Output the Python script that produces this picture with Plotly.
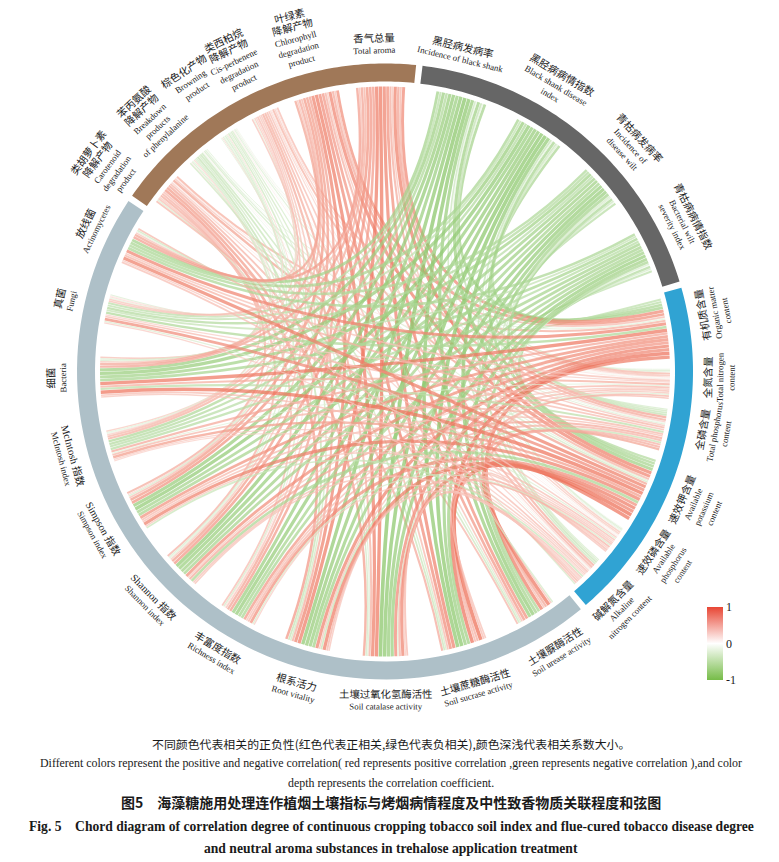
import numpy as np
import plotly.graph_objects as go

# ---- variables (clockwise order round the circle) ----
AROMA_ZH = ["类胡萝卜素<br>降解产物", "苯丙氨酸<br>降解产物", "棕色化产物", "类西柏烷<br>降解产物", "叶绿素<br>降解产物", "香气总量"]
AROMA_EN = ["Carotenoid<br>degradation<br>product", "Breakdown<br>products<br>of phenylalanine", "Browning<br>product",
            "Cis-perbenene<br>degradation<br>product", "Chlorophyll<br>degradation<br>product", "Total aroma"]
DISEASE_ZH = ["黑胫病发病率", "黑胫病病情指数", "青枯病发病率", "青枯病病情指数"]
DISEASE_EN = ["Incidence of black shank", "Black shank disease<br>index", "Incidence of<br>disease wilt", "Bacterial wilt<br>severity index"]
NUTRIENT_ZH = ["有机质含量", "全氮含量", "全磷含量", "速效钾含量", "速效磷含量", "碱解氮含量"]
NUTRIENT_EN = ["Organic matter<br>content", "Total nitrogen<br>content", "Total phosphorus<br>content",
               "Available<br>potassium<br>content", "Available<br>phosphorus<br>content", "Alkaline<br>nitrogen content"]
BIO_ZH = ["土壤脲酶活性", "土壤蔗糖酶活性", "土壤过氧化氢酶活性", "根系活力", "丰富度指数", "Shannon 指数",
          "Simpson 指数", "McIntosh 指数", "细菌", "真菌", "放线菌"]
BIO_EN = ["Soil urease activity", "Soil sucrase activity", "Soil catalase activity", "Root vitality", "Richness index",
          "Shannon index", "Simpson index", "McIntosh index", "Bacteria", "Fungi", "Actinomycetes"]

# ---- correlation coefficients (estimated from the figure) ----
# rows: soil indices = nutrients (6) + biology (11); cols: disease (4)
SOIL_DISEASE = [
    [-0.62, -0.58, -0.49, -0.45],
    [-0.21, -0.26, -0.18, -0.12],
    [-0.42, -0.38, -0.35, -0.30],
    [-0.66, -0.61, -0.57, -0.52],
    [-0.18, -0.22, -0.27, -0.15],
    [-0.36, -0.40, -0.31, -0.28],
    [-0.71, -0.74, -0.62, -0.58],
    [-0.78, -0.80, -0.69, -0.66],
    [-0.82, -0.79, -0.72, -0.70],
    [-0.76, -0.73, -0.70, -0.64],
    [-0.69, -0.72, -0.61, -0.59],
    [-0.74, -0.70, -0.66, -0.62],
    [-0.71, -0.75, -0.63, -0.61],
    [-0.55, -0.52, -0.48, -0.50],
    [-0.68, -0.71, -0.64, -0.60],
    [-0.47, -0.44, -0.52, -0.41],
    [-0.63, -0.59, -0.55, -0.57],
]
# rows: soil indices; cols: aroma (6)
SOIL_AROMA = [
    [0.45, -0.22, -0.15, 0.38, 0.62, 0.66],
    [0.18, -0.12, 0.10, 0.22, 0.35, 0.41],
    [0.32, -0.25, -0.18, 0.29, 0.48, 0.52],
    [0.51, -0.30, -0.24, 0.43, 0.68, 0.71],
    [0.15, 0.12, -0.09, 0.20, 0.31, 0.33],
    [0.28, -0.16, 0.14, 0.25, 0.44, 0.47],
    [0.42, -0.35, -0.28, 0.37, 0.58, 0.62],
    [0.48, -0.38, -0.31, 0.40, 0.64, 0.70],
    [0.55, -0.32, -0.25, 0.45, 0.72, 0.75],
    [0.58, -0.41, -0.33, 0.47, 0.69, 0.73],
    [0.39, -0.30, 0.21, 0.35, 0.52, 0.56],
    [0.44, -0.27, -0.24, 0.33, 0.55, 0.59],
    [0.47, 0.25, -0.29, 0.38, 0.57, 0.61],
    [0.31, -0.22, -0.19, 0.29, 0.41, 0.45],
    [0.36, -0.28, -0.26, 0.31, 0.49, 0.52],
    [-0.25, 0.18, 0.22, -0.20, 0.33, 0.36],
    [0.41, -0.33, -0.21, 0.34, 0.51, 0.54],
]
# rows: nutrients (6); cols: biology (11)
NUTRIENT_BIO = [
    [0.72, 0.78, 0.66, 0.70, 0.58, 0.63, 0.61, 0.49, 0.74, -0.55, 0.68],
    [0.38, 0.42, -0.25, 0.33, 0.36, 0.31, 0.40, -0.22, 0.45, 0.28, 0.35],
    [0.51, 0.47, 0.44, -0.39, 0.42, 0.48, 0.36, 0.41, -0.46, 0.38, 0.43],
    [0.76, 0.81, 0.69, 0.73, 0.62, -0.58, 0.70, 0.55, 0.77, 0.64, 0.71],
    [0.34, 0.39, 0.31, 0.42, -0.28, 0.36, 0.33, 0.30, 0.37, -0.26, 0.32],
    [-0.31, 0.36, 0.40, 0.34, 0.29, 0.35, -0.38, 0.27, 0.33, 0.30, 0.37],
]

GROUP_COLORS = ["#A07858", "#666666", "#30A3D3", "#AEC0C8"]

# ---- geometry (window pixels; the page body adds an 8px margin) ----
W, H, PAD = 779, 862, 8
CX, CY = 385, 371.5
R_OUT, R_IN, R_LINK = 308, 290, 285
# angular extent of each group's ring segment (degrees clockwise from top)
GROUP_ARC = [(304.8, 365.8), (7.0, 73.0), (74.2, 139.3), (140.5, 303.6)]
LABEL_SHIFT = [-1.0, -2.0, -1.5, 0.0]
# small hand nudges for crowded labels: node -> (degrees, pixels outward)
LABEL_NUDGE = {0: (-2.5, 0), 1: (-1.0, 0), 2: (0.5, 16), 14: (-1.0, 0), 15: (1.8, 0)}
DEG_PER_UNIT = 1.05

zh = AROMA_ZH + DISEASE_ZH + NUTRIENT_ZH + BIO_ZH
en = AROMA_EN + DISEASE_EN + NUTRIENT_EN + BIO_EN
group = [0] * 6 + [1] * 4 + [2] * 6 + [3] * 11
n_nodes = len(zh)

links = []
for s in range(17):
    for d in range(4):
        links.append((10 + s, 6 + d, SOIL_DISEASE[s][d]))
    for a in range(6):
        links.append((10 + s, a, SOIL_AROMA[s][a]))
for n in range(6):
    for b in range(11):
        links.append((10 + n, 16 + b, NUTRIENT_BIO[n][b]))

node_sum = np.zeros(n_nodes)
for i, j, r in links:
    node_sum[i] += abs(r)
    node_sum[j] += abs(r)
k = DEG_PER_UNIT

# fans spread evenly inside each group's arc
fan_start = np.zeros(n_nodes)
fan_end = np.zeros(n_nodes)
for g, (g0, g1) in enumerate(GROUP_ARC):
    idx = [i for i in range(n_nodes) if group[i] == g]
    widths = k * node_sum[idx]
    gap = (g1 - g0 - widths.sum()) / len(idx)
    ang = g0 + gap / 2
    for i, w in zip(idx, widths):
        fan_start[i] = ang
        fan_end[i] = ang + w
        ang += w + gap
center = (fan_start + fan_end) / 2


def pt(theta, r):
    t = np.radians(theta)
    return CX + r * np.sin(t), CY - r * np.cos(t)


# slots in each fan, ordered by clockwise offset of partner (descending)
slot = {}
for i in range(n_nodes):
    mine = [(li, (j if a == i else a)) for li, (a, j, r) in enumerate(links) if i in (a, j)]
    mine.sort(key=lambda x: -((center[x[1]] - center[i]) % 360))
    cur = fan_start[i]
    for li, _ in mine:
        w = k * abs(links[li][2])
        slot[(li, i)] = (cur, cur + w)
        cur += w

RED = np.array([233, 75, 45])
GREEN = np.array([110, 185, 70])


def corr_color(r, alpha=0.72):
    base = RED if r >= 0 else GREEN
    c = 255 + abs(r) * (base - 255)
    return "rgba(%d,%d,%d,%.2f)" % (c[0], c[1], c[2], alpha)


shapes = []
for li, (i, j, r) in enumerate(links):
    a = np.mean(slot[(li, i)])
    b = np.mean(slot[(li, j)])
    w_px = k * abs(r) * np.pi / 180 * R_LINK * 0.86
    p = "M%.2f,%.2f Q%.2f,%.2f %.2f,%.2f" % (pt(a, R_LINK) + (CX, CY) + pt(b, R_LINK))
    shapes.append(dict(type="path", path=p, xref="x", yref="y", fillcolor="rgba(0,0,0,0)",
                       line=dict(color=corr_color(r), width=w_px), layer="above"))

# outer ring, one segment per group
for g, (g0, g1) in enumerate(GROUP_ARC):
    ts = np.linspace(g0, g1, 80)
    pts = [pt(t, R_OUT) for t in ts] + [pt(t, R_IN) for t in ts[::-1]]
    p = "M" + " L".join("%.2f,%.2f" % q for q in pts) + " Z"
    shapes.append(dict(type="path", path=p, xref="x", yref="y", fillcolor=GROUP_COLORS[g],
                       line=dict(width=0), layer="above"))

annotations = []
LINE_H = 11.4
for i in range(n_nodes):
    d_ang, d_r = LABEL_NUDGE.get(i, (0, 0))
    th = (center[i] + LABEL_SHIFT[group[i]] + d_ang) % 360
    outward = th >= 262 or th < 74
    rot = th if outward else th - 180
    rot = (rot + 180) % 360 - 180
    zh_lines = zh[i].split("<br>")
    en_lines = en[i].split("<br>")
    txt = "<br>".join(["<span style='font-size:10.4px'>%s</span>" % s for s in zh_lines] + en_lines)
    h = (len(zh_lines) + len(en_lines)) * LINE_H
    x, y = pt(th, 317 + d_r + h / 2)
    annotations.append(dict(x=x, y=y, xref="x", yref="y", text=txt, showarrow=False, textangle=rot,
                            xanchor="center", yanchor="middle",
                            font=dict(family="Liberation Serif, Noto Sans CJK SC", size=8.8, color="#1a1a1a")))

CAPTION = [
    ("不同颜色代表相关的正负性(红色代表正相关,绿色代表负相关),颜色深浅代表相关系数大小。", 743, 11.9, "Noto Sans CJK SC", False),
    ("Different colors represent the positive and negative correlation( red represents positive correlation ,green represents negative correlation ),and color",
     763, 11.9, "Liberation Serif", False),
    ("depth represents the correlation coefficient.", 783, 11.9, "Liberation Serif", False),
    ("图5\u3000海藻糖施用处理连作植烟土壤指标与烤烟病情程度及中性致香物质关联程度和弦图", 802, 14, "Noto Sans CJK SC", True),
    ("Fig. 5\u00a0\u00a0\u00a0\u00a0Chord diagram of correlation degree of continuous cropping tobacco soil index and flue-cured tobacco disease degree",
     826, 13.6, "Liberation Serif", True),
    ("and neutral aroma substances in trehalose application treatment", 848, 13.6, "Liberation Serif", True),
]
for text, y, size, fam, bold in CAPTION:
    annotations.append(dict(x=391, y=y, xref="x", yref="y", text="<b>%s</b>" % text if bold else text,
                            showarrow=False, xanchor="center", yanchor="middle",
                            font=dict(family=fam, size=size, color="#1a1a1a")))

# colour key
fig = go.Figure(go.Scatter(
    x=[-50], y=[-50], mode="markers", hoverinfo="skip",
    marker=dict(color=[0], cmin=-1, cmax=1, showscale=True,
                colorscale=[[0, "rgb(118,188,72)"], [0.5, "rgb(255,255,255)"], [1, "rgb(232,70,52)"]],
                colorbar=dict(x=(707 - PAD) / (W - PAD), xanchor="left",
                              y=1 - (643.5 - PAD) / (H - PAD), yanchor="middle",
                              len=73, lenmode="pixels", thickness=16, outlinewidth=0, xpad=0, ypad=0,
                              tickvals=[-1, 0, 1], ticktext=["-1", "0", "1"], ticks="",
                              tickfont=dict(family="Liberation Serif", size=12, color="#1a1a1a"))),
))

fig.update_layout(
    width=W - PAD, height=H - PAD, margin=dict(l=0, r=0, t=0, b=0),
    paper_bgcolor="white", plot_bgcolor="white", showlegend=False,
    xaxis=dict(range=[PAD, W], visible=False, fixedrange=True),
    yaxis=dict(range=[H, PAD], visible=False, fixedrange=True),
    shapes=shapes, annotations=annotations,
)

fig.write_html("out.html")
